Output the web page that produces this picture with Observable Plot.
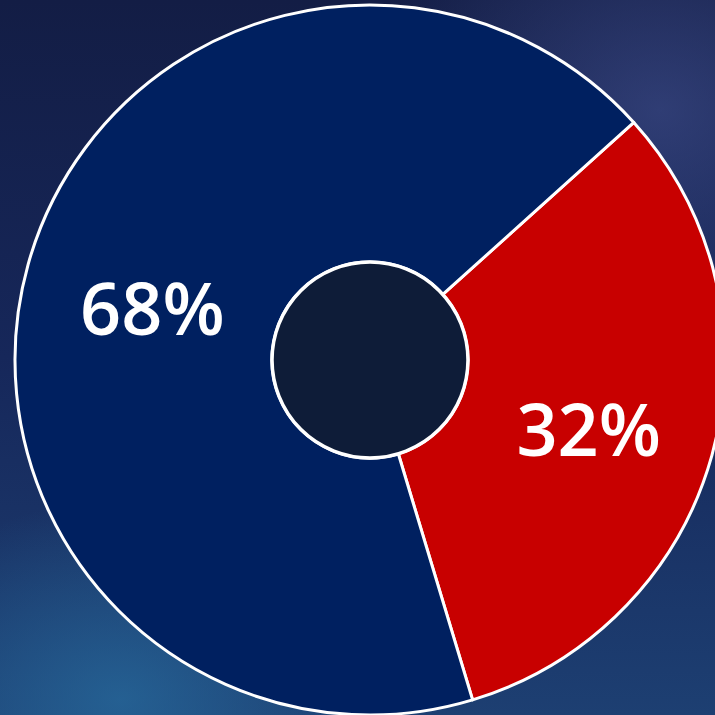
<!DOCTYPE html>
<html><head><meta charset="utf-8">
<script src="https://cdn.jsdelivr.net/npm/d3@7"></script>
<script src="https://cdn.jsdelivr.net/npm/@observablehq/plot@0.6"></script>
<style>
html,body{margin:0;padding:0;}
body{width:715px;height:715px;overflow:hidden;
background:
 radial-gradient(ellipse 260px 200px at 120px 700px, rgba(40,110,160,0.7), rgba(40,110,160,0) 100%),
 radial-gradient(ellipse 300px 260px at 660px 110px, rgba(70,85,150,0.55), rgba(70,85,150,0) 100%),
 linear-gradient(180deg, #131d45 0%, #16275a 50%, #1d3f72 100%);}
#chart{position:absolute;left:0;top:0;}
svg text{font-family:'Open Sans','Noto Sans',sans-serif;}
</style></head><body><div id="chart"></div>
<script>
const categories = ["Red", "Navy"];
const values = [32, 68];
const labels = ["32%", "68%"];
const colors = ["#c80000", "#002060"];
const startDeg = 48;

const innerFrac = 0.276;
const a0 = startDeg * Math.PI / 180;
const arcs = d3.pie().sort(null).startAngle(a0).endAngle(a0 + 2 * Math.PI)(values)
  .map((a, i) => ({...a, category: categories[i], label: labels[i], color: colors[i]}));
const unitArc = d3.arc().innerRadius(innerFrac).outerRadius(1);
arcs.forEach(a => { const c = unitArc.centroid(a); a.cx = c[0]; a.cy = -c[1]; });

function donut(index, scales) {
  const sx = scales && scales.x ? scales.x : d3.scaleLinear([-1, 1], [15, 725]);
  const sy = scales && scales.y ? scales.y : d3.scaleLinear([-1, 1], [715, 5]);
  const cx = sx(0), cy = sy(0), R = sx(1) - cx;
  const arc = d3.arc().innerRadius(R * innerFrac).outerRadius(R);
  const g = d3.create("svg:g").attr("transform", `translate(${cx},${cy})`);
  g.selectAll("path").data(arcs).join("path")
    .attr("d", arc).attr("fill", d => d.color)
    .attr("stroke", "white").attr("stroke-width", 3).attr("stroke-linejoin", "round");
  g.append("circle").attr("r", R * innerFrac).attr("fill", "#0e1c38")
    .attr("stroke", "white").attr("stroke-width", 3.5);
  return g.node();
}

const chart = Plot.plot({
  width: 715, height: 715,
  style: {background: "transparent", overflow: "visible", fontFamily: "'Open Sans', 'Noto Sans', sans-serif"},
  x: {domain: [-1, 1], range: [15, 725], axis: null},
  y: {domain: [-1, 1], range: [715, 5], axis: null},
  marks: [
    donut,
    Plot.text(arcs, {x: "cx", y: "cy", text: "label", fill: "white", fontSize: 72,
      fontWeight: 600, fontFamily: "'Open Sans', 'Noto Sans', sans-serif", dy: 12, textAnchor: "middle"})
  ]
});
document.getElementById("chart").appendChild(chart);
</script></body></html>
